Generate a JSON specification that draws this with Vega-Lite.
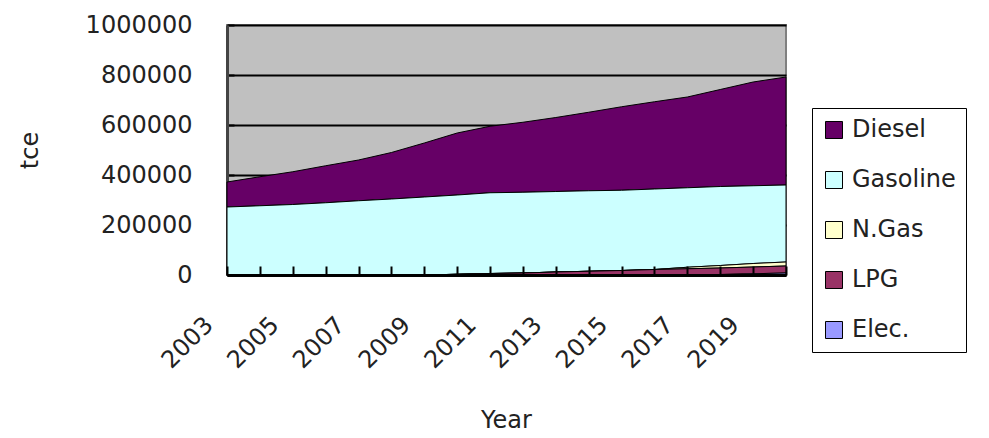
{
  "$schema": "https://vega.github.io/schema/vega-lite/v6.json",
  "width": 559,
  "height": 250,
  "autosize": {"type": "none"},
  "padding": {"left": 227, "top": 25, "right": 203, "bottom": 163},
  "background": "white",
  "config": {
    "font": "DejaVu Sans",
    "view": {"fill": "#C0C0C0", "stroke": "#808080", "strokeWidth": 2}
  },
  "data": {"values": [
    {"Year":2003,"Fuel":"Diesel","tce":100000},{"Year":2003,"Fuel":"Gasoline","tce":272000},{"Year":2003,"Fuel":"N.Gas","tce":0},{"Year":2003,"Fuel":"LPG","tce":0},{"Year":2003,"Fuel":"Elec.","tce":0},
    {"Year":2004,"Fuel":"Diesel","tce":116000},{"Year":2004,"Fuel":"Gasoline","tce":277000},{"Year":2004,"Fuel":"N.Gas","tce":0},{"Year":2004,"Fuel":"LPG","tce":0},{"Year":2004,"Fuel":"Elec.","tce":0},
    {"Year":2005,"Fuel":"Diesel","tce":131000},{"Year":2005,"Fuel":"Gasoline","tce":282000},{"Year":2005,"Fuel":"N.Gas","tce":0},{"Year":2005,"Fuel":"LPG","tce":0},{"Year":2005,"Fuel":"Elec.","tce":0},
    {"Year":2006,"Fuel":"Diesel","tce":148000},{"Year":2006,"Fuel":"Gasoline","tce":289000},{"Year":2006,"Fuel":"N.Gas","tce":0},{"Year":2006,"Fuel":"LPG","tce":0},{"Year":2006,"Fuel":"Elec.","tce":0},
    {"Year":2007,"Fuel":"Diesel","tce":163000},{"Year":2007,"Fuel":"Gasoline","tce":297000},{"Year":2007,"Fuel":"N.Gas","tce":0},{"Year":2007,"Fuel":"LPG","tce":0},{"Year":2007,"Fuel":"Elec.","tce":0},
    {"Year":2008,"Fuel":"Diesel","tce":186000},{"Year":2008,"Fuel":"Gasoline","tce":304000},{"Year":2008,"Fuel":"N.Gas","tce":0},{"Year":2008,"Fuel":"LPG","tce":0},{"Year":2008,"Fuel":"Elec.","tce":0},
    {"Year":2009,"Fuel":"Diesel","tce":216000},{"Year":2009,"Fuel":"Gasoline","tce":312000},{"Year":2009,"Fuel":"N.Gas","tce":0},{"Year":2009,"Fuel":"LPG","tce":0},{"Year":2009,"Fuel":"Elec.","tce":0},
    {"Year":2010,"Fuel":"Diesel","tce":248000},{"Year":2010,"Fuel":"Gasoline","tce":317000},{"Year":2010,"Fuel":"N.Gas","tce":0},{"Year":2010,"Fuel":"LPG","tce":3000},{"Year":2010,"Fuel":"Elec.","tce":0},
    {"Year":2011,"Fuel":"Diesel","tce":266000},{"Year":2011,"Fuel":"Gasoline","tce":323000},{"Year":2011,"Fuel":"N.Gas","tce":0},{"Year":2011,"Fuel":"LPG","tce":6000},{"Year":2011,"Fuel":"Elec.","tce":0},
    {"Year":2012,"Fuel":"Diesel","tce":280000},{"Year":2012,"Fuel":"Gasoline","tce":323000},{"Year":2012,"Fuel":"N.Gas","tce":0},{"Year":2012,"Fuel":"LPG","tce":8000},{"Year":2012,"Fuel":"Elec.","tce":0},
    {"Year":2013,"Fuel":"Diesel","tce":296000},{"Year":2013,"Fuel":"Gasoline","tce":322000},{"Year":2013,"Fuel":"N.Gas","tce":0},{"Year":2013,"Fuel":"LPG","tce":12000},{"Year":2013,"Fuel":"Elec.","tce":0},
    {"Year":2014,"Fuel":"Diesel","tce":314000},{"Year":2014,"Fuel":"Gasoline","tce":322000},{"Year":2014,"Fuel":"N.Gas","tce":0},{"Year":2014,"Fuel":"LPG","tce":15000},{"Year":2014,"Fuel":"Elec.","tce":0},
    {"Year":2015,"Fuel":"Diesel","tce":334000},{"Year":2015,"Fuel":"Gasoline","tce":321000},{"Year":2015,"Fuel":"N.Gas","tce":0},{"Year":2015,"Fuel":"LPG","tce":18000},{"Year":2015,"Fuel":"Elec.","tce":0},
    {"Year":2016,"Fuel":"Diesel","tce":349000},{"Year":2016,"Fuel":"Gasoline","tce":322000},{"Year":2016,"Fuel":"N.Gas","tce":0},{"Year":2016,"Fuel":"LPG","tce":22000},{"Year":2016,"Fuel":"Elec.","tce":0},
    {"Year":2017,"Fuel":"Diesel","tce":363000},{"Year":2017,"Fuel":"Gasoline","tce":318000},{"Year":2017,"Fuel":"N.Gas","tce":6000},{"Year":2017,"Fuel":"LPG","tce":25000},{"Year":2017,"Fuel":"Elec.","tce":0},
    {"Year":2018,"Fuel":"Diesel","tce":388000},{"Year":2018,"Fuel":"Gasoline","tce":316000},{"Year":2018,"Fuel":"N.Gas","tce":10000},{"Year":2018,"Fuel":"LPG","tce":26000},{"Year":2018,"Fuel":"Elec.","tce":2000},
    {"Year":2019,"Fuel":"Diesel","tce":415000},{"Year":2019,"Fuel":"Gasoline","tce":311000},{"Year":2019,"Fuel":"N.Gas","tce":14000},{"Year":2019,"Fuel":"LPG","tce":27000},{"Year":2019,"Fuel":"Elec.","tce":5000},
    {"Year":2020,"Fuel":"Diesel","tce":432000},{"Year":2020,"Fuel":"Gasoline","tce":308000},{"Year":2020,"Fuel":"N.Gas","tce":16000},{"Year":2020,"Fuel":"LPG","tce":28000},{"Year":2020,"Fuel":"Elec.","tce":8000}
  ]},
  "transform": [
    {"calculate": "indexof(['Elec.','LPG','N.Gas','Gasoline','Diesel'], datum.Fuel)", "as": "stackOrder"}
  ],
  "mark": {"type": "area", "stroke": "black", "strokeWidth": 1, "interpolate": "linear"},
  "encoding": {
    "x": {
      "field": "Year", "type": "quantitative",
      "scale": {"domain": [2003, 2020], "nice": false, "zero": false},
      "axis": {
        "title": "Year",
        "zindex": 1,
        "values": [2003,2004,2005,2006,2007,2008,2009,2010,2011,2012,2013,2014,2015,2016,2017,2018,2019,2020],
        "labelExpr": "datum.value % 2 == 1 ? datum.label : ''",
        "format": "d",
        "labelAngle": -45,
        "labelAlign": "right",
        "labelBaseline": "middle",
        "labelFont": "DejaVu Sans",
        "labelFontSize": 24,
        "labelColor": "#222222",
        "labelPadding": 55,
        "labelOffset": -18,
        "labelOverlap": false,
        "labelFlush": false,
        "grid": false,
        "tickSize": -9,
        "tickColor": "black",
        "tickWidth": 2,
        "domainColor": "black",
        "domainWidth": 3,
        "titleFont": "DejaVu Sans",
        "titleFontSize": 24,
        "titleFontWeight": "normal",
        "titleColor": "#222222",
        "titleX": 279,
        "titleY": 145,
        "titleAlign": "center",
        "titleBaseline": "middle"
      }
    },
    "y": {
      "field": "tce", "type": "quantitative", "stack": "zero",
      "scale": {"domain": [0, 1000000], "nice": false},
      "axis": {
        "title": "tce",
        "zindex": 0,
        "values": [0, 200000, 400000, 600000, 800000, 1000000],
        "format": "d",
        "labelFont": "DejaVu Sans",
        "labelFontSize": 24,
        "labelColor": "#222222",
        "labelPadding": 42,
        "grid": true,
        "gridColor": "black",
        "gridWidth": 2,
        "gridOpacity": 1,
        "tickSize": -7,
        "tickColor": "black",
        "tickWidth": 2,
        "domainColor": "#444444",
        "domainWidth": 3,
        "titleFont": "DejaVu Sans",
        "titleFontSize": 24,
        "titleFontWeight": "normal",
        "titleColor": "#222222",
        "titleAngle": -90,
        "titleX": -197,
        "titleY": 125,
        "titleAlign": "center",
        "titleBaseline": "middle"
      }
    },
    "color": {
      "field": "Fuel", "type": "nominal",
      "scale": {
        "domain": ["Diesel", "Gasoline", "N.Gas", "LPG", "Elec."],
        "range": ["#660066", "#CCFFFF", "#FFFFCC", "#993366", "#9999FF"]
      },
      "legend": {
        "title": null,
        "orient": "none",
        "legendX": 585,
        "legendY": 83,
        "padding": 10,
        "fillColor": "white",
        "strokeColor": "black",
        "symbolType": "square",
        "symbolSize": 289,
        "symbolStrokeColor": "black",
        "symbolStrokeWidth": 1,
        "symbolOpacity": 1,
        "labelFont": "DejaVu Sans",
        "labelFontSize": 24,
        "labelColor": "#222222",
        "labelOffset": 6,
        "rowPadding": 26
      }
    },
    "order": {"field": "stackOrder", "type": "quantitative", "sort": "ascending"}
  }
}
